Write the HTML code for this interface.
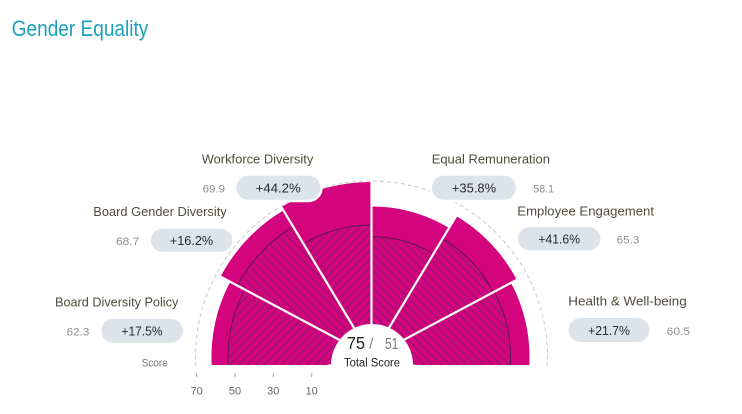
<!DOCTYPE html>
<html>
<head>
<meta charset="utf-8">
<style>
  html,body{margin:0;padding:0;background:#fff;}
  svg{display:block;}
  text{font-family:"Liberation Sans", sans-serif;}
</style>
</head>
<body>
<svg width="742" height="414" viewBox="0 0 742 414" xmlns="http://www.w3.org/2000/svg">
  <defs>
    <pattern id="hf" patternUnits="userSpaceOnUse" width="8.5" height="8.5">
      <rect width="8.5" height="8.5" fill="#d4047f"/>
      <path d="M-1,1 l2,-2 M0,8.5 l8.5,-8.5 M7.5,9.5 l2,-2" stroke="#7a2068" stroke-width="0.9"/>
    </pattern>
    <pattern id="hb" patternUnits="userSpaceOnUse" width="8.5" height="8.5">
      <rect width="8.5" height="8.5" fill="#d4047f"/>
      <path d="M0,0 l8.5,8.5 M-1,7.5 l2,2 M7.5,-1 l2,2" stroke="#7a2068" stroke-width="0.9"/>
    </pattern>
    <clipPath id="clip"><rect x="0" y="0" width="742" height="365"/></clipPath>
  </defs>

  <!-- Title -->
  <text x="11.7" y="36" font-size="22" fill="#1ba0bc" textLength="136.6" lengthAdjust="spacingAndGlyphs">Gender Equality</text>

  <!-- dashed guide circle -->
  <path d="M547.26 366.21 A176 176 0 1 0 195.74 366.21" fill="none" stroke="#c9c9c9" stroke-width="1" stroke-dasharray="4 3"/>

  <g clip-path="url(#clip)">
    <!-- outer bars -->
    <path d="M371.5 357 L230.23 281.88 A160 160 0 0 0 213.93 384.78 Z" fill="#d4047f"/>
    <path d="M371.5 357 L283.43 210.42 A171 171 0 0 0 220.52 276.72 Z" fill="#d4047f"/>
    <path d="M371.5 357 L371.5 182 A175 175 0 0 0 281.37 207.0 Z" fill="#d4047f"/>
    <path d="M371.5 357 L449.01 228.0 A150.5 150.5 0 0 0 371.5 206.5 Z" fill="#d4047f"/>
    <path d="M371.5 357 L516.75 279.77 A164.5 164.5 0 0 0 456.22 216.0 Z" fill="#d4047f"/>
    <path d="M371.5 357 L527.1 384.44 A158 158 0 0 0 511.01 282.82 Z" fill="#d4047f"/>

    <!-- inner hatched bars -->
    <path d="M371.5 357 L244.80 289.63 A143.5 143.5 0 0 0 230.18 381.92 Z" fill="url(#hf)"/>
    <path d="M244.80 289.63 A143.5 143.5 0 0 0 230.18 381.92" fill="none" stroke="#5e1650" stroke-width="1"/>

    <path d="M371.5 357 L293.21 226.71 A152 152 0 0 0 237.29 285.64 Z" fill="url(#hb)"/>
    <path d="M293.21 226.71 A152 152 0 0 0 237.29 285.64" fill="none" stroke="#5e1650" stroke-width="1"/>

    <path d="M371.5 357 L371.5 225 A132 132 0 0 0 303.51 243.85 Z" fill="url(#hf)"/>
    <path d="M371.5 225 A132 132 0 0 0 303.51 243.85" fill="none" stroke="#5e1650" stroke-width="1"/>

    <path d="M371.5 357 L433.46 253.88 A120.3 120.3 0 0 0 371.5 236.7 Z" fill="url(#hb)"/>
    <path d="M433.46 253.88 A120.3 120.3 0 0 0 371.5 236.7" fill="none" stroke="#5e1650" stroke-width="1"/>

    <path d="M371.5 357 L493.35 292.21 A138 138 0 0 0 442.58 238.71 Z" fill="url(#hb)"/>
    <path d="M493.35 292.21 A138 138 0 0 0 442.58 238.71" fill="none" stroke="#5e1650" stroke-width="1"/>

    <path d="M371.5 357 L508.39 381.14 A139 139 0 0 0 494.23 291.74 Z" fill="url(#hb)"/>
    <path d="M508.39 381.14 A139 139 0 0 0 494.23 291.74" fill="none" stroke="#5e1650" stroke-width="1"/>

    <!-- separators -->
    <g stroke="#ffffff" stroke-width="2.2">
      <line x1="371.5" y1="357" x2="518.07" y2="279.07"/>
      <line x1="371.5" y1="357" x2="457.0" y2="214.71"/>
      <line x1="371.5" y1="357" x2="371.5" y2="181"/>
      <line x1="371.5" y1="357" x2="280.34" y2="205.28"/>
      <line x1="371.5" y1="357" x2="218.75" y2="275.78"/>
    </g>
  </g>

  <!-- center circle -->
  <circle cx="372" cy="365" r="41" fill="#ffffff"/>
  <text x="346.7" y="349" font-size="17.5" fill="#222" textLength="18.3" lengthAdjust="spacingAndGlyphs">75</text>
  <text x="369" y="349" font-size="16" fill="#8a8a8a">/</text>
  <text x="385" y="349" font-size="16" fill="#777" textLength="13.3" lengthAdjust="spacingAndGlyphs">51</text>
  <text x="344" y="366.5" font-size="11.5" fill="#222" textLength="56" lengthAdjust="spacingAndGlyphs">Total Score</text>

  <!-- bubbles -->
  <g fill="#dce3eb" stroke="#ffffff" stroke-width="2.5">
    <rect x="235" y="174.5" width="86.5" height="26.5" rx="13.25"/>
    <rect x="149.5" y="227.5" width="84" height="25.5" rx="12.75"/>
    <rect x="100" y="317.5" width="84" height="26.5" rx="13.25"/>
    <rect x="430.7" y="174.5" width="86.5" height="26.5" rx="13.25"/>
    <rect x="516.7" y="225.7" width="85" height="26" rx="13"/>
    <rect x="567.3" y="316.7" width="83.4" height="26.6" rx="13.3"/>
  </g>
  <g font-size="13" fill="#2a2a2a" text-anchor="middle">
    <text x="278.2" y="192.5" textLength="45" lengthAdjust="spacingAndGlyphs">+44.2%</text>
    <text x="191.5" y="245" textLength="43.4" lengthAdjust="spacingAndGlyphs">+16.2%</text>
    <text x="142" y="335.5" textLength="41" lengthAdjust="spacingAndGlyphs">+17.5%</text>
    <text x="474" y="192.5" textLength="44.3" lengthAdjust="spacingAndGlyphs">+35.8%</text>
    <text x="559.2" y="243.5" textLength="41.7" lengthAdjust="spacingAndGlyphs">+41.6%</text>
    <text x="609" y="334.8" textLength="41.7" lengthAdjust="spacingAndGlyphs">+21.7%</text>
  </g>

  <!-- category labels -->
  <g font-size="13" fill="#4f4b3c">
    <text x="201.7" y="163.3" textLength="111.6" lengthAdjust="spacingAndGlyphs">Workforce Diversity</text>
    <text x="431.7" y="163.3" textLength="118.3" lengthAdjust="spacingAndGlyphs">Equal Remuneration</text>
    <text x="93.3" y="216" textLength="133.4" lengthAdjust="spacingAndGlyphs">Board Gender Diversity</text>
    <text x="517.3" y="215.5" textLength="136.7" lengthAdjust="spacingAndGlyphs">Employee Engagement</text>
    <text x="55" y="306.7" textLength="123.3" lengthAdjust="spacingAndGlyphs">Board Diversity Policy</text>
    <text x="568.3" y="305.7" textLength="118.4" lengthAdjust="spacingAndGlyphs">Health &amp; Well-being</text>
  </g>

  <!-- values -->
  <g font-size="11" fill="#8c8c8c">
    <text x="202.7" y="192.3" textLength="22.3" lengthAdjust="spacingAndGlyphs">69.9</text>
    <text x="116" y="245" textLength="23.3" lengthAdjust="spacingAndGlyphs">68.7</text>
    <text x="66.7" y="335.5" textLength="22.6" lengthAdjust="spacingAndGlyphs">62.3</text>
    <text x="533.3" y="192.3" textLength="20.7" lengthAdjust="spacingAndGlyphs">58.1</text>
    <text x="616.7" y="243.5" textLength="22.6" lengthAdjust="spacingAndGlyphs">65.3</text>
    <text x="666.7" y="335" textLength="23.3" lengthAdjust="spacingAndGlyphs">60.5</text>
  </g>

  <!-- axis -->
  <text x="141.7" y="366.5" font-size="11" fill="#777" textLength="26" lengthAdjust="spacingAndGlyphs">Score</text>
  <g stroke="#a0a0a0" stroke-width="1">
    <line x1="196.7" y1="373" x2="196.7" y2="377"/>
    <line x1="235" y1="373" x2="235" y2="377"/>
    <line x1="273.3" y1="373" x2="273.3" y2="377"/>
    <line x1="311.7" y1="373" x2="311.7" y2="377"/>
  </g>
  <g font-size="11" fill="#666" text-anchor="middle">
    <text x="196.7" y="394.3">70</text>
    <text x="235" y="394.3">50</text>
    <text x="273.3" y="394.3">30</text>
    <text x="311.7" y="394.3">10</text>
  </g>
</svg>
</body>
</html>
